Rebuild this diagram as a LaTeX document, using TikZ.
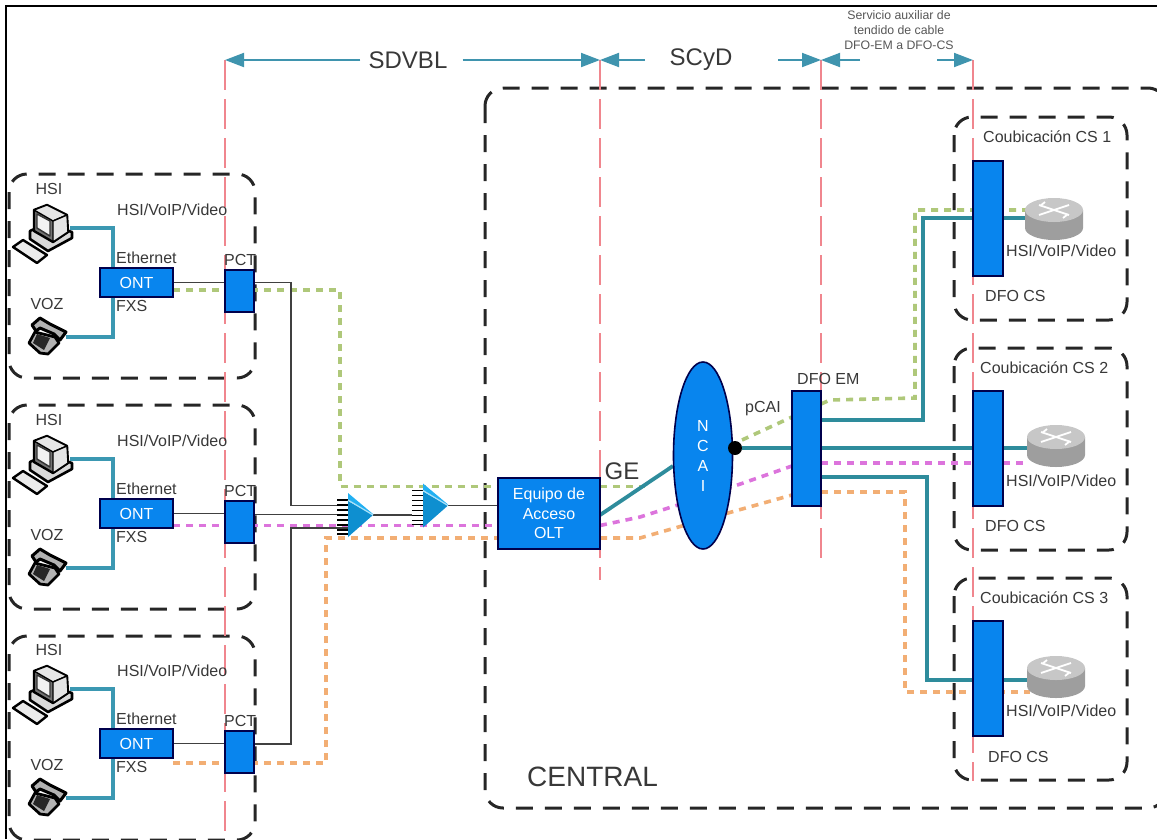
\documentclass[tikz,border=0pt]{standalone}
\usepackage{fontspec}
\setmainfont{Liberation Sans}
\usetikzlibrary{arrows.meta,calc,shapes.geometric}
\definecolor{bluebox}{HTML}{0885EE}
\definecolor{tealA}{HTML}{3B98B2}
\definecolor{tealB}{HTML}{2E8C9C}
\definecolor{redl}{HTML}{F0868E}
\definecolor{greenl}{HTML}{AFC87A}
\definecolor{magl}{HTML}{DC74DC}
\definecolor{orgl}{HTML}{F2AE74}
\definecolor{txtc}{HTML}{383838}
\definecolor{arrc}{HTML}{3F94AE}
\definecolor{splitA}{HTML}{0E8FD0}
\definecolor{splitB}{HTML}{22B0F2}
\definecolor{splitC}{HTML}{A8E0F8}
\pgfdeclarelayer{lines}
\pgfsetlayers{lines,main}
\tikzset{
  x=1pt,y=-1pt,
  grp/.style={draw=black!85,line width=3pt,dash pattern=on 17pt off 12pt,rounded corners=18pt},
  redv/.style={draw=redl,line width=2.3pt,dash pattern=on 30pt off 9pt},
  blk/.style={draw=black!75,line width=1.9pt},
  tealc/.style={draw=tealA,line width=3.8pt},
  tealk/.style={draw=tealB,line width=3.8pt},
  gdash/.style={draw=greenl,line width=3.6pt,dash pattern=on 7pt off 6pt},
  mdash/.style={draw=magl,line width=3.6pt,dash pattern=on 7pt off 6pt},
  odash/.style={draw=orgl,line width=3.6pt,dash pattern=on 7pt off 6pt},
  bbox/.style={draw=black!70!blue,line width=1.6pt,fill=bluebox,inner sep=0pt,outer sep=0pt,text=white,font=\fontsize{16}{18}\selectfont,align=center},
  txt/.style={text=txtc,inner sep=0pt,font=\fontsize{16}{18}\selectfont},
  dim/.style={draw=arrc,line width=1.9pt,-{Triangle[length=19pt,width=14pt,fill=arrc]}},
}
\newcommand{\pcicon}[2]{%
 \begin{scope}[shift={(#1,#2)},line join=round]
  \fill[black!8,draw=black,line width=2.4pt] (13,247)--(23,240)--(47,255)--(37,263)--cycle;
  \fill[black!15,draw=black,line width=2.6pt] (30,231)--(45,224)--(72,232)--(72,238)--(48,251)--(30,239)--cycle;
  \fill[black!55,draw=black,line width=2.4pt] (34,210)--(47,205)--(67,215)--(68,232)--(53,242)--(34,231)--cycle;
  \fill[black!10,draw=black,line width=1.4pt] (34,210)--(47,205)--(67,215)--(53,221)--cycle;
  \fill[black!10,draw=black,line width=1.4pt] (53,221)--(67,215)--(68,232)--(53,242)--cycle;
  \fill[black!5,draw=black!80,line width=1.4pt] (37,214)--(50,221)--(50,236)--(37,228)--cycle;
 \end{scope}}
\newcommand{\phoneicon}[2]{%
 \begin{scope}[shift={(#1,#2)},line join=round]
  \fill[black!30,draw=black,line width=2.8pt] (35,332)--(55,337)--(59,343)--(48,354)--(40,353)--(29,343)--cycle;
  \fill[black!85] (37,334)--(50,338)--(44,350)--(33,343)--cycle;
  \fill[black!30,draw=black,line width=3pt] (32,325)--(40,318)--(50,324)--(66,332)--(60,340)--(54,334)--(40,328)--(36,331)--cycle;
 \end{scope}}
\newcommand{\routericon}[2]{%
 \begin{scope}[shift={(#1,#2)}]
  \fill[black!38] (-29,12)--(-29,30) arc[start angle=180,end angle=0,x radius=29,y radius=12] --(29,12)--cycle;
  \fill[black!22] (0,12) ellipse[x radius=29,y radius=12];
  \draw[white,line width=1.8pt] (-15,7)--(15,17) (-15,17)--(15,7) (-9,4)--(-14,8) (9,20)--(14,16);
 \end{scope}}
\newcommand{\splitter}[3]{%
 \begin{scope}[shift={(#1,#2)}]
  \foreach \t in {-15,-10,-5,0,5,10,15,19}{\draw[black,line width=1.3pt] (-11,\t)--(0,\t);}
  \fill[splitA] (0,-14)--(25,0)--(0,22)--cycle;
  \fill[splitB] (0,-22)--(25,-1)--(25,0)--(0,-15)--cycle;
  \draw[splitC,line width=1.2pt] (0,-15)--(25,0);
 \end{scope}}
\begin{document}
\begin{tikzpicture}
\useasboundingbox (0,0) rectangle (1157,839);

% boxes
\foreach \i/\d in {1/0,2/231,3/461}{
  \node[bbox,minimum width=73pt,minimum height=29pt] (ont\i) at (136.5,282.5+\d) {ONT};
  \node[bbox,minimum width=29pt,minimum height=42pt,anchor=north west] (pct\i) at (225,270+\d) {};
}
\node[bbox,minimum width=102pt,minimum height=71pt,anchor=north west,font=\fontsize{16}{19.5}\selectfont] (olt) at (498,478) {Equipo de\\Acceso\\OLT};
\node[bbox,ellipse,minimum width=59pt,minimum height=187pt,font=\fontsize{16}{20}\selectfont] (ncai) at (703,455.5) {N\\C\\A\\I};
\node[bbox,minimum width=29pt,minimum height=115pt,anchor=north west] (dfoem) at (792,391) {};
\node[bbox,minimum width=30pt,minimum height=115pt,anchor=north west] (dfo1) at (973,161) {};
\node[bbox,minimum width=30pt,minimum height=115pt,anchor=north west] (dfo2) at (973,391) {};
\node[bbox,minimum width=30pt,minimum height=115pt,anchor=north west] (dfo3) at (973,621) {};
\node[circle,fill=black,minimum size=14pt,inner sep=0pt] (pcai) at (735,448) {};
\coordinate (gA) at (340,290);
\coordinate (oA) at (326,763);
\coordinate (jA) at (291,282.5);
\coordinate (jC) at (291,744);
\coordinate (sp1t) at (373,515);
\coordinate (sp2i) at (412,515);
\coordinate (sp2t) at (448,505.5);
\coordinate (r1) at (1026,210);
\coordinate (r2) at (1027,448);
\coordinate (r3) at (1027,680);

\begin{pgfonlayer}{lines}
% frame
\draw[black,line width=2.6pt] (6,839)--(6,6)--(1157,6);
% dashed group boxes
\foreach \d in {0,231,462}{\draw[grp] (9,174+\d) rectangle (255,378+\d);}
\draw[grp] (485,88) rectangle (1166,808);
\draw[grp] (954,117) rectangle (1127,320);
\draw[grp] (954,348) rectangle (1127,550);
\draw[grp] (954,578) rectangle (1127,780);
% red reference lines
\draw[redv] (225,60)--(225,838);
\draw[redv] (600,60)--(600,580);
\draw[redv] (821,60)--(821,560);
\draw[redv] (973,60)--(973,781);
% coloured service lines
\draw[gdash] (ont1.east |- gA) -- (gA) -- (340,486.5) -- (olt.west |- 0,486.5);
\draw[mdash] (ont2.east |- 0,525.5) -- (olt.west |- 0,525.5);
\draw[odash] (ont3.east |- oA) -- (oA) -- (326,538) -- (olt.west |- 0,538);
\draw[gdash] (olt.east |- 0,486.5) -- (645,486.5);
\draw[mdash] (olt.east |- 0,525.5) -- (640,517) -- (703,497) -- (dfoem.west |- 0,466);
\draw[odash] (olt.east |- 0,538) -- (640,538) -- (703,520) -- (dfoem.west |- 0,495);
\draw[gdash] (742,440) -- (dfoem.west |- 0,417);
\draw[gdash] (dfoem.east |- 0,404) -- (830,400) -- (915,398) -- (915,210) -- (r1);
\draw[mdash] (dfoem.east |- 0,463) -- (1027,463);
\draw[odash] (dfoem.east |- 0,492) -- (905,492) -- (905,692) -- (1030,692);
% black fibre lines
\foreach \i in {1,2,3}{\draw[blk] (ont\i.east) -- (pct\i.west |- ont\i.east);}
\draw[blk] (pct1.east |- jA) -- (jA) -- (291,505.5) -- (348,505.5);
\draw[blk] (pct2.east |- 0,514.5) -- (348,514.5);
\draw[blk] (pct3.east |- jC) -- (jC) -- (291,528) -- (348,528);
\draw[blk] (sp1t) -- (sp2i);
\draw[blk] (sp2t) -- (olt.west |- sp2t);
% teal links
\foreach \i/\d in {1/0,2/231,3/461}{
  \draw[tealc] (70,228+\d) -- (113,228+\d) -- (113,268+\d);
  \draw[tealc] (66,337+\d) -- (113,337+\d) -- (113,297+\d);
}
\draw[tealk] (olt.east |- 0,515) -- (673,466);
\draw[tealk] (pcai) -- (dfoem.west |- pcai);
\draw[tealk] (dfoem.east |- 0,420) -- (923,420) -- (923,218) -- (dfo1.west |- 0,218);
\draw[tealk] (dfo1.east |- 0,218) -- (1026,218);
\draw[tealk] (dfoem.east |- 0,448) -- (dfo2.west |- 0,448);
\draw[tealk] (dfo2.east |- 0,448) -- (r2);
\draw[tealk] (dfoem.east |- 0,477) -- (927,477) -- (927,680) -- (dfo3.west |- 0,680);
\draw[tealk] (dfo3.east |- 0,680) -- (r3);
\end{pgfonlayer}

% splitters
\splitter{348}{515}{spa}
\splitter{423}{505.5}{spb}

% icons
\foreach \d in {0,231,461}{
  \pcicon{0}{\d}
  \phoneicon{0}{\d}
}
\routericon{1054}{198}
\routericon{1056}{425}
\routericon{1056}{656}

% dimension arrows
\coordinate (dA) at (225,60);
\coordinate (dB) at (600,60);
\coordinate (dC) at (821,60);
\coordinate (dD) at (973,60);
\node[txt,font=\fontsize{24}{26}\selectfont] (tsdvbl) at (408,60) {SDVBL};
\node[txt,font=\fontsize{24}{26}\selectfont] (tscyd) at (701,60) {SCyD};
\draw[dim] (tsdvbl.west) ++(-8,0) -- (dA);
\draw[dim] (tsdvbl.east) ++(15,0) -- (dB);
\draw[dim] (645,60) -- (dB);
\draw[dim] (778,60) -- (dC);
\draw[dim] (860,60) -- (dC);
\draw[dim] (937,60) -- (dD);
\node[txt,text=txtc!85,font=\fontsize{12.3}{15}\selectfont,align=center] (taux) at (899,30) {Servicio auxiliar de\\tendido de cable\\DFO-EM a DFO-CS};

% labels
\foreach \i/\d in {1/0,2/231,3/461}{
  \node[txt] (hsi\i) at (49,189+\d) {HSI};
  \node[txt] (voz\i) at (47,304+\d) {VOZ};
  \node[txt,anchor=west] (srv\i) at (117,210+\d) {HSI/VoIP/Video};
  \node[txt,anchor=west] (eth\i) at (116,258+\d) {Ethernet};
  \node[txt,anchor=west] (fxs\i) at (116,306+\d) {FXS};
  \node[txt,anchor=west] (pctl\i) at (224,260+\d) {PCT};
}
\node[txt,font=\fontsize{24}{26}\selectfont] (tge) at (622,471) {GE};
\node[txt] (tpcai) at (763,409) {pCAI};
\node[txt,anchor=west] (tdfoem) at (797,379) {DFO EM};
\node[txt,anchor=west] (c1) at (983,137) {Coubicación CS 1};
\node[txt,anchor=west] (c2) at (980,368) {Coubicación CS 2};
\node[txt,anchor=west] (c3) at (980,598) {Coubicación CS 3};
\node[txt,anchor=west] (s1) at (1006,251) {HSI/VoIP/Video};
\node[txt,anchor=west] (s2) at (1006,481) {HSI/VoIP/Video};
\node[txt,anchor=west] (s3) at (1006,711) {HSI/VoIP/Video};
\node[txt,anchor=west] (d1) at (985,296) {DFO CS};
\node[txt,anchor=west] (d2) at (985,526) {DFO CS};
\node[txt,anchor=west] (d3) at (988,757) {DFO CS};
\node[txt,anchor=west,font=\fontsize{28}{30}\selectfont] (tcentral) at (527,777) {CENTRAL};
\end{tikzpicture}
\end{document}
